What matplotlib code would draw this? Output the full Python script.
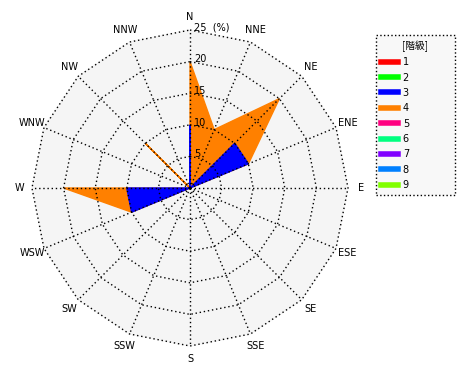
#-  plot.py ~~
#
#   Wind-rose style frequency chart (16 directions), stacked by class.

import numpy as np
import matplotlib
matplotlib.use("Agg")
import matplotlib.pyplot as pyplot
from matplotlib.lines import Line2D

###

directions = ["N", "NNE", "NE", "ENE", "E", "ESE", "SE", "SSE",
              "S", "SSW", "SW", "WSW", "W", "WNW", "NW", "NNW"]

# frequency (%) per direction, by class
class4 = [20, 10, 20, 10, 0, 0, 0, 0, 0, 0, 0, 10, 20, 0, 10, 0]
class3 = [10, 0, 10, 10, 0, 0, 0, 0, 0, 0, 0, 10, 10, 0, 0, 0]

ring_values = [5, 10, 15, 20, 25]
class_labels = ["1", "2", "3", "4", "5", "6", "7", "8", "9"]
class_colors = ["#ff0000", "#00ff00", "#0000ff", "#ff8000", "#ff0080",
                "#00ff80", "#8000ff", "#0080ff", "#80ff00"]

###

def to_xy(values):
  # compass angle: N at top, clockwise
    ang = np.deg2rad(90 - 22.5 * np.arange(len(values)))
    r = np.asarray(values, dtype=float)
    return r * np.cos(ang), r * np.sin(ang)

def main():

    fig = pyplot.figure(figsize=(4.7, 3.8), dpi=100)
    ax = fig.add_axes([0, 0, 1, 1])
    ax.set_xlim(-30.06, 44.30)
    ax.set_ylim(-30.38, 29.75)
    ax.axis("off")

    n = len(directions)
    rmax = ring_values[-1]
    dot = dict(color="black", linewidth=1, linestyle=(0, (1, 2)))

  # Background polygon
    bx, by = to_xy([rmax] * n)
    ax.fill(bx, by, color="#f5f5f5", zorder=0)

  # Data polygons, outer class first
    for vals, col in ((class4, class_colors[3]), (class3, class_colors[2])):
        x, y = to_xy(vals)
        ax.fill(x, y, facecolor=col, edgecolor=col, linewidth=1, zorder=2)

  # Rings and spokes
    for r in ring_values:
        x, y = to_xy([r] * n)
        ax.plot(np.append(x, x[0]), np.append(y, y[0]), zorder=3, **dot)
    for xe, ye in zip(bx, by):
        ax.plot([0, xe], [0, ye], zorder=3, **dot)

  # Direction labels
    lx, ly = to_xy([27.0] * n)
    for name, x, y in zip(directions, lx, ly):
        ax.text(x, y, name, ha="center", va="center", fontsize=7,
                family="DejaVu Sans")

  # Ring labels along the N spoke
    for r in ring_values:
        label = "%d  (%%)" % r if r == rmax else "%d" % r
        ax.text(0.6, r + 0.35, label, ha="left", va="center", fontsize=7,
                zorder=4)

  # Legend
    handles = [Line2D([], [], color=c, linewidth=4) for c in class_colors]
    leg = ax.legend(handles, class_labels, title="[階級]",
                    loc="upper left", mode="expand",
                    bbox_to_anchor=(0.8, 0.487, 0.168, 0.421),
                    bbox_transform=fig.transFigure,
                    fontsize=7, title_fontsize=7, handlelength=1.7,
                    handletextpad=0.5, labelspacing=0.55,
                    borderpad=0.55, borderaxespad=0.0, fancybox=False,
                    framealpha=1)
    leg.get_title().set_family(["Noto Sans CJK JP", "DejaVu Sans"])
    frame = leg.get_frame()
    frame.set_facecolor("#f8f8f8")
    frame.set_edgecolor("black")
    frame.set_linestyle(":")
    frame.set_linewidth(1)

    fig.savefig("out.png", dpi=100)

###

if __name__ == "__main__":
    main()
